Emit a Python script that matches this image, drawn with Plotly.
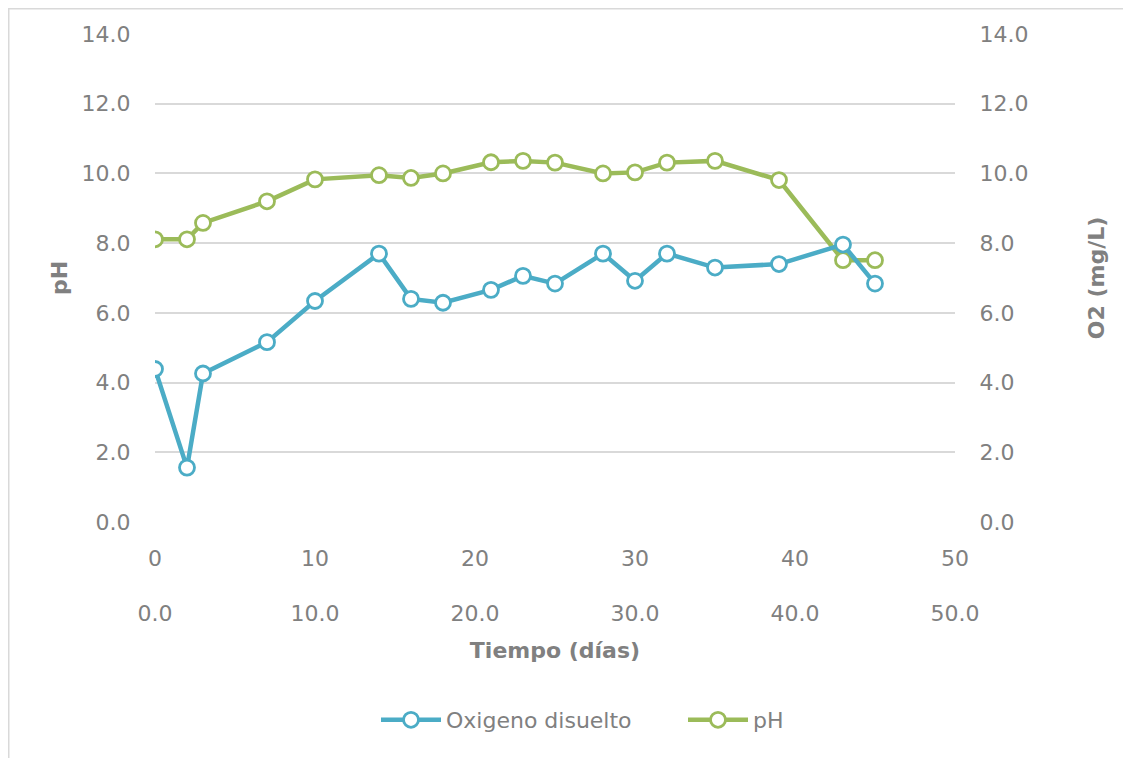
import plotly.graph_objects as go

# Tiempo (días)
dias = [0, 2, 3, 7, 10, 14, 16, 18, 21, 23, 25, 28, 30, 32, 35, 39, 43, 45]
# Oxigeno disuelto (mg/L)
oxigeno = [4.39, 1.56, 4.26, 5.16, 6.34, 7.70, 6.40, 6.29, 6.66, 7.06, 6.84,
           7.70, 6.92, 7.70, 7.30, 7.40, 7.96, 6.84]
# pH
ph = [8.11, 8.11, 8.58, 9.20, 9.83, 9.95, 9.87, 10.00, 10.32, 10.36, 10.31,
      10.00, 10.03, 10.31, 10.36, 9.81, 7.51, 7.51]

BLUE = '#4BACC6'
GREEN = '#9BBB59'
GRAY = '#808080'
FONT = 'Century Gothic, DejaVu Sans, sans-serif'

# the page body adds an 8px margin, so the figure is drawn 8px in
OFF = 8
W, H = 1131 - OFF, 758 - OFF
L, R, T, B = 155 - OFF, 176, 34 - OFF, 58
PW, PH = W - L - R, H - T - B


def px_x(x):
    # screen pixel -> paper fraction
    return (x - OFF - L) / PW


def px_y(y):
    return (H - B - (y - OFF)) / PH


def marker(color):
    return dict(symbol='circle', size=15, color='white',
                line=dict(color=color, width=2.8))


fig = go.Figure()
fig.add_trace(go.Scatter(x=dias, y=oxigeno, name='Oxigeno disuelto',
                         mode='lines+markers', yaxis='y2',
                         line=dict(color=BLUE, width=4.5),
                         marker=marker(BLUE)))
fig.add_trace(go.Scatter(x=dias, y=ph, name='pH', mode='lines+markers',
                         line=dict(color=GREEN, width=4.5),
                         marker=marker(GREEN)))

tickfont = dict(family=FONT, size=22, color=GRAY)
titlefont = dict(family=FONT, size=22, color=GRAY, weight='bold')

fig.update_layout(
    width=W, height=H,
    margin=dict(l=L, r=R, t=T, b=B),
    paper_bgcolor='white', plot_bgcolor='white',
    font=dict(family=FONT, color=GRAY),
    showlegend=True,
    legend=dict(orientation='h', x=px_x(376), xanchor='left',
                y=px_y(720), yanchor='middle',
                font=dict(family=FONT, size=22, color=GRAY),
                itemwidth=60, traceorder='normal',
                entrywidth=232, entrywidthmode='pixels'),
    xaxis=dict(range=[0, 50], dtick=10, tickformat='d', showgrid=False,
               zeroline=False, showline=False,
               ticks='outside', ticklen=17, tickcolor='rgba(0,0,0,0)',
               tickfont=tickfont),
    xaxis2=dict(range=[0, 50], dtick=10, tickformat='.1f', overlaying='x',
                side='bottom', anchor='free', position=px_y(598),
                showgrid=False, zeroline=False, showline=False,
                ticks='', tickfont=tickfont,
                title=dict(text='Tiempo (días)', font=titlefont, standoff=17)),
    yaxis=dict(domain=[px_y(522), 1], range=[0, 14], dtick=2,
               tickformat='.1f', showgrid=True, gridcolor='#D9D9D9',
               gridwidth=1.5, zeroline=False, showline=False,
               ticks='outside', ticklen=19, tickcolor='rgba(0,0,0,0)',
               tickfont=tickfont,
               title=dict(text='pH', font=titlefont, standoff=7)),
    yaxis2=dict(range=[0, 14], dtick=2, tickformat='.1f', overlaying='y',
                side='right', showgrid=False, zeroline=False, showline=False,
                ticks='outside', ticklen=19, tickcolor='rgba(0,0,0,0)',
                tickfont=tickfont,
                title=dict(text='O2 (mg/L)', font=titlefont, standoff=61)),
)

# invisible trace so the lower axis gets drawn
fig.add_trace(go.Scatter(x=[0, 50], y=[0, 0], xaxis='x2', mode='markers',
                         marker=dict(opacity=0), showlegend=False,
                         hoverinfo='skip'))

# chart border (top and left edges only, as in the crop)
fig.add_shape(type='line', xref='paper', yref='paper',
              x0=px_x(OFF), x1=px_x(1131), y0=px_y(OFF + 0.75),
              y1=px_y(OFF + 0.75), line=dict(color='#D9D9D9', width=1.5))
fig.add_shape(type='line', xref='paper', yref='paper',
              x0=px_x(OFF + 0.75), x1=px_x(OFF + 0.75), y0=px_y(OFF),
              y1=px_y(758), line=dict(color='#D9D9D9', width=1.5))

fig.write_html('out.html')
